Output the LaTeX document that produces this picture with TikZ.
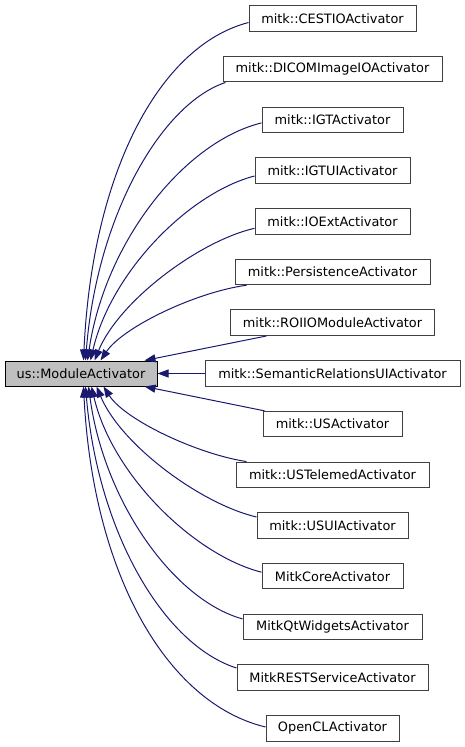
\documentclass[tikz,border=0pt]{standalone}
\usepackage{fontspec}
\setmainfont{DejaVu Sans}
\usetikzlibrary{arrows.meta}
\definecolor{edgeblue}{RGB}{25,25,112}
\definecolor{boxgray}{RGB}{64,64,64}
\definecolor{fillgray}{RGB}{191,191,191}
\begin{document}
\begin{tikzpicture}[x=1pt,y=-1pt,
  cls/.style={draw=boxgray, line width=1pt, minimum height=25.5pt, inner sep=0pt,
    font=\fontsize{12.9}{15}\selectfont, text=black},
  base/.style={cls, draw=black, fill=fillgray, minimum height=25pt},
  edge/.style={draw=edgeblue, line width=1pt, -{Triangle[length=11pt,width=8pt]}},
]
\useasboundingbox (0,0) rectangle (465,747);
\node[base, minimum width=152pt] (m) at (81,373.5) {us::ModuleActivator};
\node[cls, minimum width=167pt] (r0) at (332.5,18.5) {mitk::CESTIOActivator};
\node[cls, minimum width=219pt] (r1) at (332.5,69.2) {mitk::DICOMImageIOActivator};
\node[cls, minimum width=141pt] (r2) at (332.5,119.9) {mitk::IGTActivator};
\node[cls, minimum width=155pt] (r3) at (332.5,170.6) {mitk::IGTUIActivator};
\node[cls, minimum width=155pt] (r4) at (332.5,221.3) {mitk::IOExtActivator};
\node[cls, minimum width=195pt] (r5) at (332.5,272) {mitk::PersistenceActivator};
\node[cls, minimum width=204pt] (r6) at (332.5,322.7) {mitk::ROIIOModuleActivator};
\node[cls, minimum width=255pt] (r7) at (332.5,373.5) {mitk::SemanticRelationsUIActivator};
\node[cls, minimum width=139pt] (r8) at (332.5,424.1) {mitk::USActivator};
\node[cls, minimum width=193pt] (r9) at (332.5,474.8) {mitk::USTelemedActivator};
\node[cls, minimum width=151pt] (r10) at (332.5,525.5) {mitk::USUIActivator};
\node[cls, minimum width=141pt] (r11) at (332.5,576.2) {MitkCoreActivator};
\node[cls, minimum width=179pt] (r12) at (332.5,626.9) {MitkQtWidgetsActivator};
\node[cls, minimum width=191pt] (r13) at (332.5,677.6) {MitkRESTServiceActivator};
\node[cls, minimum width=133pt] (r14) at (332.5,728.3) {OpenCLActivator};

\draw[edge] ([yshift=-4pt]r0.west) .. controls (158,46) and (92,175) .. ([xshift=79pt]m.north west);
\draw[edge] ([xshift=3pt]r1.south west) .. controls (161,104) and (97,216) .. ([xshift=81pt]m.north west);
\draw[edge] ([yshift=-3pt]r2.west) .. controls (184,142) and (105,242) .. ([xshift=83pt]m.north west);
\draw[edge] ([yshift=-5.4pt]r3.west) .. controls (189,193) and (111,272) .. ([xshift=86pt]m.north west);
\draw[edge] ([yshift=-7pt]r4.west) .. controls (199,241) and (119,301) .. ([xshift=90pt]m.north west);
\draw[edge] ([xshift=12pt]r5.south west) .. controls (196,292) and (123,327) .. ([xshift=96pt]m.north west);
\draw[edge] ([xshift=36.5pt]r6.south west) -- ([xshift=140pt]m.north west);
\draw[edge] (r7.west) -- (m.east);
\draw[edge] ([xshift=2pt]r8.north west) -- ([xshift=140pt]m.south west);
\draw[edge] ([xshift=11pt]r9.north west) .. controls (197,454) and (125,420) .. ([xshift=99pt]m.south west);
\draw[edge] ([yshift=8.5pt]r10.west) .. controls (201,504) and (121,445) .. ([xshift=92pt]m.south west);
\draw[edge] ([yshift=4pt]r11.west) .. controls (194,555) and (112,475) .. ([xshift=87pt]m.south west);
\draw[edge] ([yshift=8pt]r12.west) .. controls (174,600) and (104,502) .. ([xshift=84pt]m.south west);
\draw[edge] ([yshift=9.6pt]r13.west) .. controls (164,645) and (98,533) .. ([xshift=81pt]m.south west);
\draw[edge] ([yshift=1.3pt]r14.west) .. controls (166,703) and (93,573) .. ([xshift=79pt]m.south west);
\end{tikzpicture}
\end{document}
